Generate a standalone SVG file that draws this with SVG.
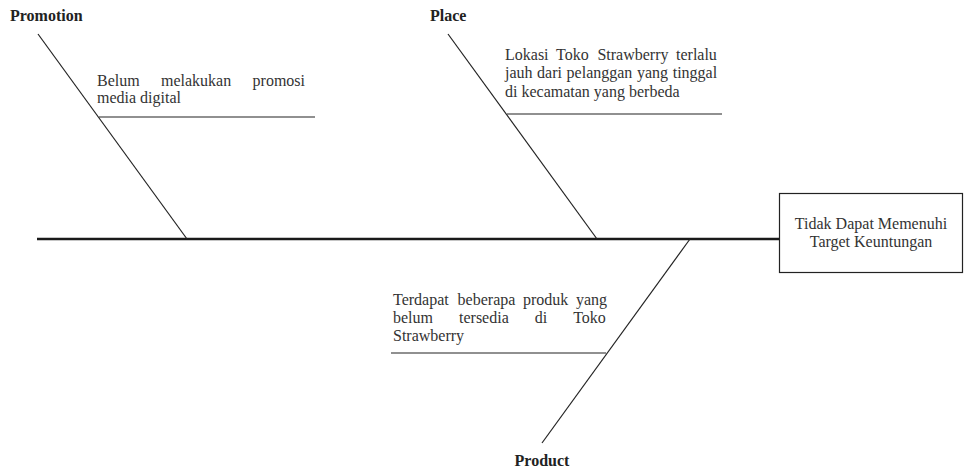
<svg xmlns="http://www.w3.org/2000/svg" width="965" height="472" viewBox="0 0 965 472">
<style>
.ln{stroke:#222;stroke-width:1.2;fill:none}
</style>
<rect width="965" height="472" fill="#fff"/>
<g id="connectors">
<line x1="37" y1="239" x2="780" y2="239" stroke="#1a1a1a" stroke-width="2.6"/>
<line class="ln" x1="38" y1="34" x2="187" y2="239"/>
<line class="ln" x1="99" y1="117" x2="315" y2="117"/>
<line class="ln" x1="448" y1="34" x2="597" y2="239"/>
<line class="ln" x1="507" y1="114" x2="722" y2="114"/>
<line class="ln" x1="690" y1="239" x2="542" y2="443"/>
<line class="ln" x1="391" y1="353" x2="606" y2="353"/>
</g>
<g id="promotion">
<text font-family="Liberation Serif" font-size="16" font-weight="bold" fill="#222" x="10" y="21">Promotion</text>
<text font-family="Liberation Serif" font-size="16" fill="#333" y="86"><tspan x="97">Belum</tspan><tspan x="161">melakukan</tspan><tspan x="252.6">promosi</tspan></text>
<text font-family="Liberation Serif" font-size="16" fill="#333" x="97" y="103">media digital</text>
</g>
<g id="place">
<text font-family="Liberation Serif" font-size="16" font-weight="bold" fill="#222" x="430" y="21">Place</text>
<text font-family="Liberation Serif" font-size="16" fill="#333" y="60"><tspan x="505">Lokasi</tspan><tspan x="556.1">Toko</tspan><tspan x="597.4">Strawberry</tspan><tspan x="676">terlalu</tspan></text>
<text font-family="Liberation Serif" font-size="16" fill="#333" y="78"><tspan x="505">jauh</tspan><tspan x="537.1">dari</tspan><tspan x="566.6">pelanggan</tspan><tspan x="637">yang</tspan><tspan x="672.7">tinggal</tspan></text>
<text font-family="Liberation Serif" font-size="16" fill="#333" x="505" y="97">di kecamatan yang berbeda</text>
</g>
<g id="product">
<text font-family="Liberation Serif" font-size="16" font-weight="bold" fill="#222" x="542" y="466" text-anchor="middle">Product</text>
<text font-family="Liberation Serif" font-size="16" fill="#333" y="305"><tspan x="393">Terdapat</tspan><tspan x="457.6">beberapa</tspan><tspan x="523">produk</tspan><tspan x="576">yang</tspan></text>
<text font-family="Liberation Serif" font-size="16" fill="#333" y="323"><tspan x="393">belum</tspan><tspan x="459">tersedia</tspan><tspan x="534.8">di</tspan><tspan x="573.2">Toko</tspan></text>
<text font-family="Liberation Serif" font-size="16" fill="#333" x="393" y="341">Strawberry</text>
</g>
<g id="effect">
<rect x="779.5" y="193.5" width="183" height="79" fill="#fff" stroke="#222" stroke-width="1.2"/>
<text font-family="Liberation Serif" font-size="16" fill="#333" x="871" y="229" text-anchor="middle">Tidak Dapat Memenuhi</text>
<text font-family="Liberation Serif" font-size="16" fill="#333" x="871" y="247" text-anchor="middle">Target Keuntungan</text>
</g>
</svg>
